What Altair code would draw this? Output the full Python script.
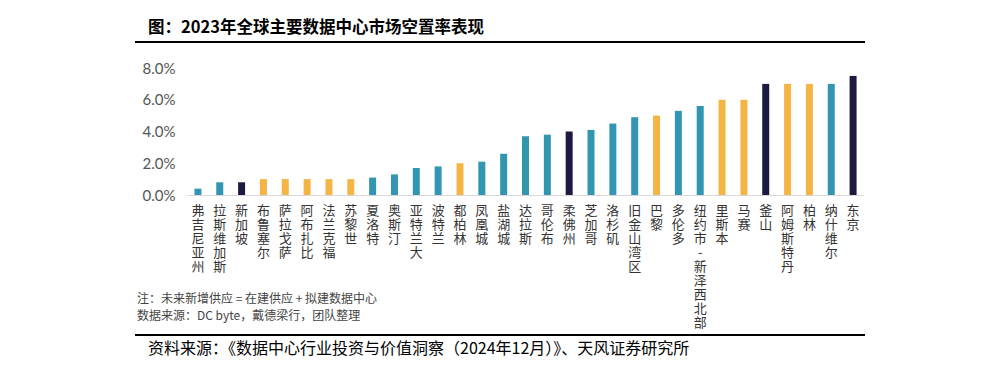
import altair as alt
import pandas as pd

cities = ["弗吉尼亚州", "拉斯维加斯", "新加坡", "布鲁塞尔", "萨拉戈萨", "阿布扎比", "法兰克福",
          "苏黎世", "夏洛特", "奥斯汀", "亚特兰大", "波特兰", "都柏林", "凤凰城", "盐湖城",
          "达拉斯", "哥伦布", "柔佛州", "芝加哥", "洛杉矶", "旧金山湾区", "巴黎", "多伦多",
          "纽约市-新泽西北部", "里斯本", "马赛", "釜山", "阿姆斯特丹", "柏林", "纳什维尔", "东京"]
vacancy = [0.4, 0.8, 0.8, 1.0, 1.0, 1.0, 1.0,
           1.0, 1.1, 1.3, 1.7, 1.8, 2.0, 2.1, 2.6,
           3.7, 3.8, 4.0, 4.1, 4.5, 4.9, 5.0, 5.3,
           5.6, 6.0, 6.0, 7.0, 7.0, 7.0, 7.0, 7.5]
region = ["美洲", "美洲", "亚太", "欧洲", "欧洲", "欧洲", "欧洲",
          "欧洲", "美洲", "美洲", "美洲", "美洲", "欧洲", "美洲", "美洲",
          "美洲", "美洲", "亚太", "美洲", "美洲", "美洲", "欧洲", "美洲",
          "美洲", "欧洲", "欧洲", "亚太", "欧洲", "欧洲", "美洲", "亚太"]
region_names = ["美洲", "欧洲", "亚太"]
region_colors = ["#3396B1", "#F4B545", "#1D1A42"]

title_text = "图：2023年全球主要数据中心市场空置率表现"
note1 = "注：未来新增供应 = 在建供应 + 拟建数据中心"
note2 = "数据来源：DC byte，戴德梁行，团队整理"
source = "资料来源：《数据中心行业投资与价值洞察（2024年12月）》、天风证券研究所"

df = pd.DataFrame({"city": cities, "vacancy": vacancy, "region": region})

CJK = "Noto Sans CJK SC"
W, H = 677, 127

bars = alt.Chart(df).mark_bar(size=7).encode(
    x=alt.X("city:N", sort=None, title=None,
            axis=alt.Axis(labelExpr="split(datum.label, '')", labelAngle=0,
                          labelBaseline="top", labelAlign="center",
                          labelLineHeight=14, labelFontSize=13, labelFont=CJK,
                          labelColor="#333333", labelPadding=9, ticks=False,
                          domainColor="#d9d9d9", labelLimit=0)),
    y=alt.Y("vacancy:Q", title=None,
            scale=alt.Scale(domain=[0, 8]),
            axis=alt.Axis(values=[0, 2, 4, 6, 8], grid=False, domain=False, ticks=False,
                          labelExpr="format(datum.value, '.1f') + '%'",
                          labelFontSize=15, labelFont="Lato", labelColor="#555555",
                          labelPadding=12)),
    color=alt.Color("region:N", scale=alt.Scale(domain=region_names, range=region_colors),
                    legend=None),
)

top_rule = alt.Chart(df).mark_rule(color="#000000", strokeWidth=1).encode(
    x=alt.value(-52), x2=alt.value(678), y=alt.value(-26))
bottom_rule = alt.Chart(df).mark_rule(color="#000000", strokeWidth=1).encode(
    x=alt.value(-52), x2=alt.value(678), y=alt.value(267))

def label(text, x, y, size, color, weight="normal"):
    return alt.Chart(pd.DataFrame({"t": [text]})).mark_text(
        align="left", baseline="middle", font=CJK, fontSize=size,
        color=color, fontWeight=weight
    ).encode(text="t:N", x=alt.value(x), y=alt.value(y))

title_mark = label(title_text, -39, -40, 16.5, "#000000", "bold")
n1 = label(note1, -50, 231, 12, "#444444")
n2 = label(note2, -50, 248, 12, "#444444")
src = label(source, -39, 281, 16, "#000000")

chart = alt.layer(bars, top_rule, bottom_rule, title_mark, n1, n2, src).properties(
    width=W, height=H,
    autosize=alt.AutoSizeParams(type="none"),
    padding={"left": 179, "top": 60, "right": 123, "bottom": 163},
).configure_view(stroke=None)

chart.save("out.html", embed_options={"renderer": "svg", "actions": False})
